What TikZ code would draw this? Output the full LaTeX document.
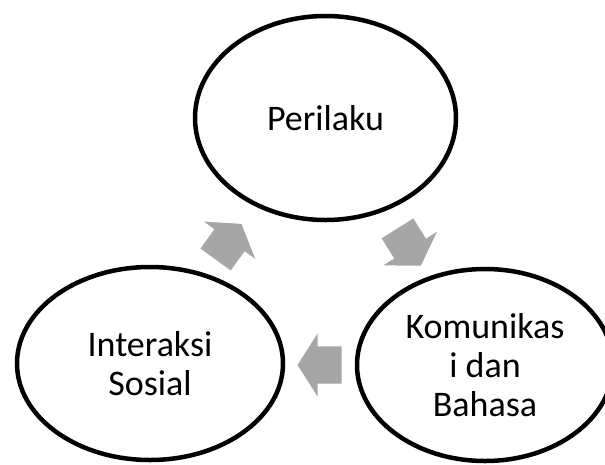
\documentclass[tikz,border=0pt]{standalone}
\usepackage{fontspec}
\setmainfont{Carlito}
\usetikzlibrary{shapes.geometric, shapes.arrows}
\definecolor{ringline}{HTML}{000000}
\definecolor{cyclefill}{HTML}{A6A6A6}
\tikzset{
  bubble/.style={ellipse, draw=ringline, line width=4.5pt, align=center,
                 inner sep=0pt, font=\fontsize{36}{39}\selectfont},
  cyclearrow/.style={single arrow, fill=cyclefill, draw=none,
                     inner xsep=0pt, inner ysep=18.5pt,
                     minimum width=63pt, minimum height=44pt,
                     single arrow head extend=13pt, single arrow tip angle=115},
}

\begin{document}
\begin{tikzpicture}[x=1pt, y=-1pt]

% Frame of the page
\useasboundingbox (0,0) rectangle (605,464);
\clip (0,0) rectangle (605,464);

% The three stages
\node[bubble, minimum width=261pt, minimum height=204pt] (perilaku) at (325.5,118) {Perilaku};
\node[bubble, minimum width=266pt, minimum height=193pt] (sosial) at (150,363.5) {Interaksi\\Sosial};
\node[bubble, minimum width=256pt, minimum height=192pt] (bahasa) at (485,365) {Komunikas\\i dan\\Bahasa};

% Cycle arrows
\node[cyclearrow, rotate=54] (upArrow) at (225,246.5) {};
\node[cyclearrow, rotate=-58] (downArrow) at (406,242) {};
\node[cyclearrow, rotate=180] (backArrow) at (325.5,365) {};

\end{tikzpicture}
\end{document}
